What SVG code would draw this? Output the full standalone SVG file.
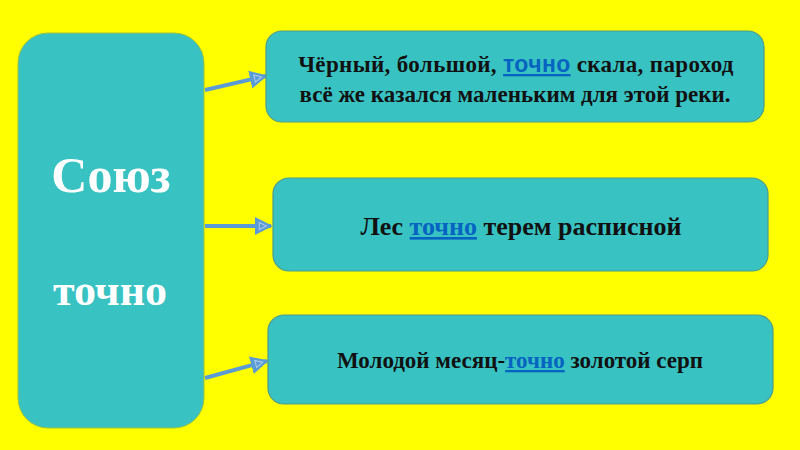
<svg xmlns="http://www.w3.org/2000/svg" width="800" height="450" viewBox="0 0 800 450">
<style>
.box{fill:#38C2C2;stroke:#4E9C8C;stroke-width:1.2}
.big{fill:#38C2C2;stroke:#9FC23A;stroke-width:1}
.t{font-family:"Liberation Serif",serif;font-weight:bold;fill:#111;text-anchor:middle}
.w{font-family:"Liberation Serif",serif;font-weight:bold;fill:#fff;text-anchor:middle}
.lk{fill:#0563C1;text-decoration:underline}
.con{stroke:#5B9BD5;stroke-width:4;fill:none}
</style>
<defs>
<marker id="ah" viewBox="0 0 10 10" refX="9" refY="5" markerWidth="4.5" markerHeight="4.5" orient="auto" markerUnits="strokeWidth">
<path d="M0,0 L10,5 L0,10 Z" fill="#5B9BD5"/>
<path d="M2.5,3 L6.5,5 L2.5,7 Z" fill="none" stroke="#A9C9EC" stroke-width="0.6"/>
</marker>
</defs>
<rect width="800" height="450" fill="#FFFF00"/>
<g id="connectors">
<line class="con" x1="205" y1="90" x2="266" y2="76" marker-end="url(#ah)"/>
<line class="con" x1="205" y1="226" x2="271" y2="226" marker-end="url(#ah)"/>
<line class="con" x1="205" y1="378" x2="267" y2="361" marker-end="url(#ah)"/>
</g>
<g id="soyuz">
<rect class="big" x="18" y="33" width="186" height="395" rx="30"/>
<text class="w" x="111" y="192" font-size="50">Союз</text>
<text class="w" x="110" y="305" font-size="44">точно</text>
</g>
<g id="box1">
<rect class="box" x="266" y="31" width="498" height="91" rx="16"/>
<text class="t" x="516" y="72" font-size="23" letter-spacing="0.35">Чёрный, большой, <tspan class="lk" font-family="Liberation Sans,sans-serif">точно</tspan> скала, пароход</text>
<text class="t" x="515" y="102" font-size="23">всё же казался маленьким для этой реки.</text>
</g>
<g id="box2">
<rect class="box" x="273" y="178" width="495" height="93" rx="16"/>
<text class="t" x="521" y="235" font-size="26">Лес <tspan class="lk">точно</tspan> терем расписной</text>
</g>
<g id="box3">
<rect class="box" x="268" y="315" width="505" height="89" rx="16"/>
<text class="t" x="520" y="368" font-size="23">Молодой месяц-<tspan class="lk">точно</tspan> золотой серп</text>
</g>
</svg>
